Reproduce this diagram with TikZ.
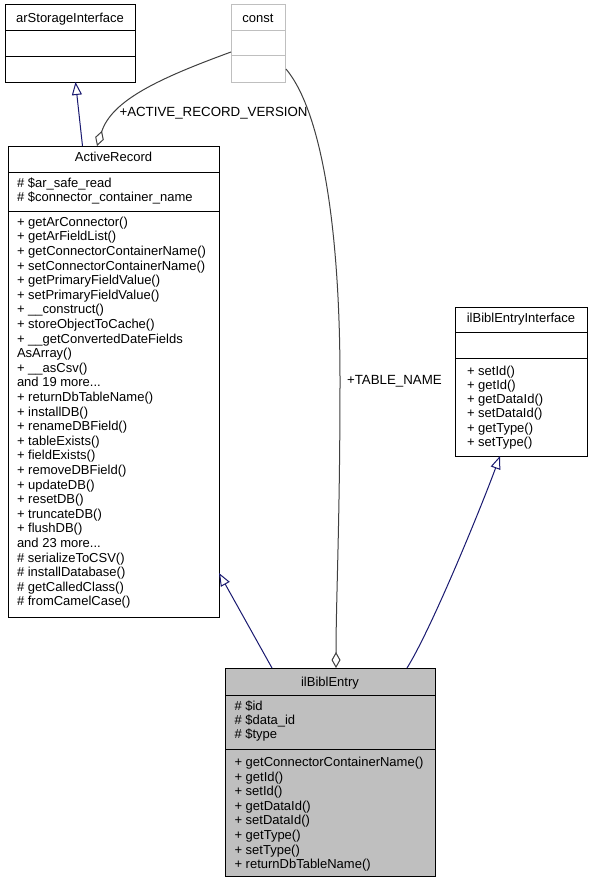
\documentclass[tikz,border=0pt]{standalone}
\usepackage{fontspec}
\setmainfont{Liberation Sans}[Ligatures=NoCommon]
\usetikzlibrary{arrows.meta,calc}
\definecolor{inhcol}{HTML}{191970}
\definecolor{aggcol}{HTML}{404040}
\definecolor{constgray}{HTML}{BFBFBF}
\definecolor{entryfill}{HTML}{BFBFBF}
\newcommand{\mydots}{...}
\begin{document}
\begin{tikzpicture}[x=1pt,y=-1pt,
  every node/.style={inner sep=0pt,outer sep=0pt},
  txt/.style={font=\fontsize{13}{14.6}\selectfont, anchor=base west},
  lbl/.style={font=\fontsize{13.3}{14.6}\selectfont, anchor=base west},
  ttl/.style={font=\fontsize{13}{14.6}\selectfont, anchor=base},
  classbox/.style={draw=black, line width=1pt, anchor=north west, fill=white},
  divline/.style={draw=black, line width=1pt},
  inh/.style={draw=inhcol, line width=1pt, -{Triangle[open,length=13pt,width=10pt]}},
  agg/.style={draw=aggcol, line width=1pt, -{Diamond[open,length=16pt,width=9pt]}}]
\fill[white] (0,0) rectangle (593,883);
\useasboundingbox (0,0) rectangle (593,883);

% arStorageInterface
\node[classbox, minimum width=130pt, minimum height=77pt] (arsi) at (5,5) {};
\draw[divline] (5,31) -- (135,31);
\draw[divline] (5,57) -- (135,57);
\node[ttl] (arsi-t) at (70,22.6) {arStorageInterface};

% const
\node[classbox, draw=constgray, minimum width=54pt, minimum height=77pt] (const) at (231,5) {};
\draw[divline, draw=constgray] (231,31) -- (285,31);
\draw[divline, draw=constgray] (231,56) -- (285,56);
\node[ttl] (const-t) at (258,22.6) {const};

% ActiveRecord
\node[classbox, minimum width=211pt, minimum height=471pt] (ar) at (8,146) {};
\draw[divline] (8,172) -- (219,172);
\draw[divline] (8,211) -- (219,211);
\node[ttl] (ar-t) at (113.5,161.5) {ActiveRecord};
\foreach \t [count=\i] in {{\# \$ar\_safe\_read},{\# \$connector\_container\_name}}
  \node[txt] (ar-a-\i) at (17,{187.3+(\i-1)*14.4}) {\t};
\foreach \t [count=\i] in {
 {+ getArConnector()},{+ getArFieldList()},{+ getConnectorContainerName()},
 {+ setConnectorContainerName()},{+ getPrimaryFieldValue()},{+ setPrimaryFieldValue()},
 {+ \_\_construct()},{+ storeObjectToCache()},{+ \_\_getConvertedDateFields},
 {AsArray()},{+ \_\_asCsv()},{and 19 more\mydots},{+ returnDbTableName()},
 {+ installDB()},{+ renameDBField()},{+ tableExists()},{+ fieldExists()},
 {+ removeDBField()},{+ updateDB()},{+ resetDB()},{+ truncateDB()},{+ flushDB()},
 {and 23 more\mydots},{\# serializeToCSV()},{\# installDatabase()},
 {\# getCalledClass()},{\# fromCamelCase()}}
  \node[txt] (ar-m-\i) at (17,{226.3+(\i-1)*14.6}) {\t};

% ilBiblEntryInterface
\node[classbox, minimum width=132pt, minimum height=149pt] (ibei) at (455,307) {};
\draw[divline] (455,332) -- (587,332);
\draw[divline] (455,358) -- (587,358);
\node[ttl] (ibei-t) at (521,322.6) {ilBiblEntryInterface};
\foreach \t [count=\i] in {{+ setId()},{+ getId()},{+ getDataId()},{+ setDataId()},{+ getType()},{+ setType()}}
  \node[txt] (ibei-m-\i) at (467,{375.3+(\i-1)*14.2}) {\t};

% ilBiblEntry
\node[classbox, fill=entryfill, minimum width=210pt, minimum height=208pt] (ibe) at (225,668) {};
\draw[divline] (225,695) -- (435,695);
\draw[divline] (225,749) -- (435,749);
\node[ttl] (ibe-t) at (330,686.6) {ilBiblEntry};
\foreach \t [count=\i] in {{\# \$id},{\# \$data\_id},{\# \$type}}
  \node[txt] (ibe-a-\i) at (234.5,{710.5+(\i-1)*14.2}) {\t};
\foreach \t [count=\i] in {{+ getConnectorContainerName()},{+ getId()},{+ setId()},
 {+ getDataId()},{+ setDataId()},{+ getType()},{+ setType()},{+ returnDbTableName()}}
  \node[txt] (ibe-m-\i) at (234.5,{766.5+(\i-1)*14.6}) {\t};

% connectors
\draw[inh] ($(ar.north west)+(74.5,0)$) -- ($(arsi.south west)+(70.5,0)$);
\draw[agg] ($(const.north west)+(0,47)$) .. controls (160,78) and (112,100) .. ($(ar.north west)+(89,0)$);
\node[lbl] (lbl1) at (119.5,116.6) {+ACTIVE\_RECORD\_VERSION};
\draw[agg] ($(const.south east)+(1,-13)$) .. controls (322,112) and (340,230) .. (340,380)
  .. controls (340,520) and (336,600) .. ($(ibe.north west)+(111,0)$);
\node[lbl] (lbl2) at (347,384.6) {+TABLE\_NAME};
\draw[inh] ($(ibe.north west)+(47,0)$) -- ($(ar.north east)+(0,427)$);
\draw[inh] ($(ibe.north west)+(182,0)$) .. controls (432,628) and (482,505) .. ($(ibei.south west)+(45,0)$);
\end{tikzpicture}
\end{document}
